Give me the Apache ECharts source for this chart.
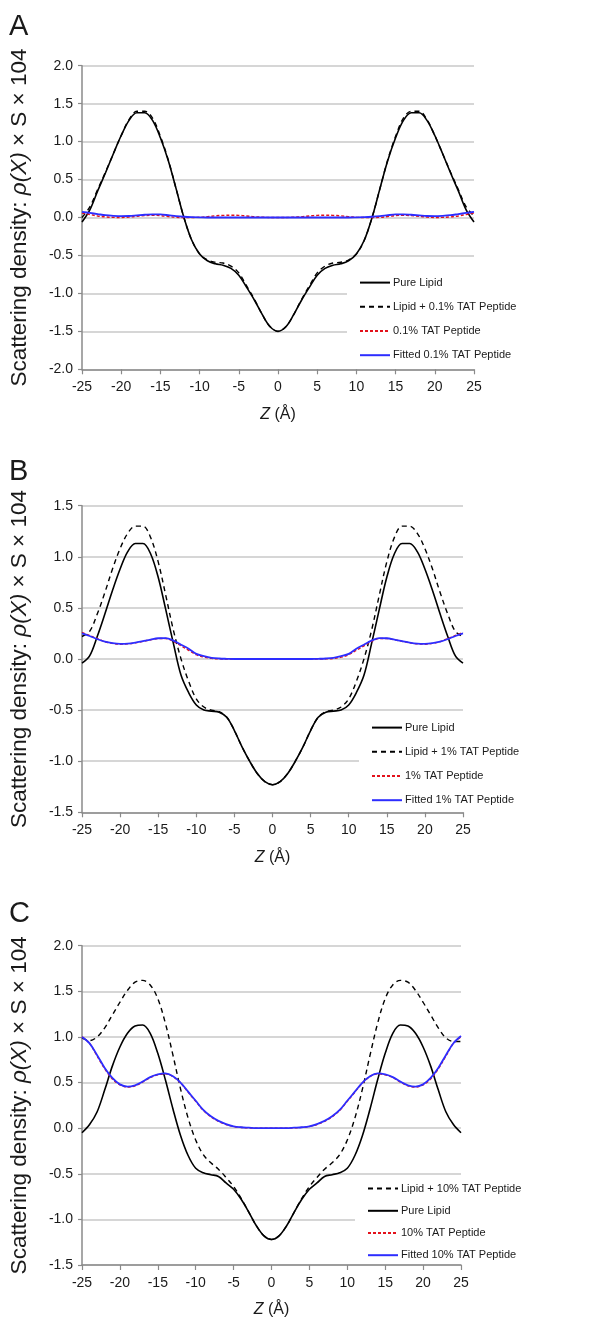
<!DOCTYPE html>
<html><head><meta charset="utf-8">
<script src="https://cdn.jsdelivr.net/npm/echarts@6/dist/echarts.min.js"></script>
<style>html,body{margin:0;padding:0;background:#fff}#c{width:614px;height:1320px}</style>
</head><body><div id="c"></div>
<script>
// Z positions (Å)
const Z = [-25,-24,-23,-22,-21,-20,-19,-18,-17,-16,-15,-14,-13,-12,-11,-10,-9,-8,-7,-6,-5,-4,-3,-2,-1,0,
           1,2,3,4,5,6,7,8,9,10,11,12,13,14,15,16,17,18,19,20,21,22,23,24,25];

// Panel A
const A_pure = [-0.06,0.10,0.35,0.59,0.84,1.08,1.28,1.38,1.38,1.28,1.05,0.75,0.38,0.00,-0.30,-0.48,-0.57,-0.61,-0.63,-0.67,-0.76,-0.92,-1.09,-1.28,-1.44,-1.50,
                -1.44,-1.28,-1.09,-0.92,-0.76,-0.67,-0.63,-0.61,-0.57,-0.48,-0.30,0.00,0.38,0.75,1.05,1.28,1.38,1.38,1.28,1.08,0.84,0.59,0.35,0.10,-0.06];
const A_mix  = [0.00,0.14,0.37,0.60,0.84,1.08,1.29,1.40,1.40,1.31,1.07,0.76,0.38,0.00,-0.30,-0.48,-0.56,-0.59,-0.60,-0.64,-0.73,-0.90,-1.08,-1.28,-1.44,-1.50,
                -1.44,-1.28,-1.08,-0.90,-0.73,-0.64,-0.60,-0.59,-0.56,-0.48,-0.30,0.00,0.38,0.76,1.07,1.31,1.40,1.40,1.29,1.08,0.84,0.60,0.37,0.14,0.02];
const A_pep  = [0.06,0.04,0.02,0.008,0.002,0.0,0.005,0.015,0.025,0.03,0.025,0.012,0.003,0.0,0.0,0.003,0.012,0.022,0.028,0.03,0.028,0.02,0.01,0.004,0.0,0.0,
                0.0,0.004,0.01,0.02,0.028,0.03,0.028,0.022,0.012,0.003,0.0,0.0,0.003,0.012,0.025,0.03,0.025,0.015,0.005,0.0,0.002,0.008,0.02,0.04,0.06];
const A_fit  = [0.075,0.06,0.045,0.03,0.022,0.018,0.02,0.028,0.036,0.042,0.04,0.03,0.018,0.01,0.005,0.002,0,0,0,0,0,0,0,0,0,0,
                0,0,0,0,0,0,0,0,0,0.002,0.005,0.01,0.018,0.03,0.04,0.042,0.036,0.028,0.02,0.018,0.022,0.03,0.045,0.06,0.075];

// Panel B
const B_pure = [-0.04,0.03,0.22,0.44,0.67,0.88,1.05,1.13,1.13,1.03,0.80,0.48,0.15,-0.16,-0.33,-0.45,-0.50,-0.51,-0.52,-0.57,-0.70,-0.86,-1.00,-1.12,-1.20,-1.23,
                -1.20,-1.12,-1.00,-0.86,-0.70,-0.57,-0.52,-0.51,-0.50,-0.45,-0.33,-0.16,0.15,0.48,0.80,1.03,1.13,1.13,1.05,0.88,0.67,0.44,0.22,0.03,-0.04];
const B_mix  = [0.22,0.27,0.44,0.65,0.88,1.08,1.23,1.30,1.30,1.19,0.95,0.62,0.28,0.00,-0.22,-0.39,-0.47,-0.50,-0.515,-0.57,-0.70,-0.86,-1.00,-1.12,-1.20,-1.23,
                -1.20,-1.12,-1.00,-0.86,-0.70,-0.57,-0.515,-0.50,-0.47,-0.39,-0.22,0.00,0.28,0.62,0.95,1.19,1.30,1.30,1.23,1.08,0.88,0.65,0.44,0.27,0.22];
const B_pep  = [0.26,0.23,0.20,0.17,0.153,0.145,0.148,0.158,0.173,0.188,0.20,0.20,0.172,0.128,0.085,0.042,0.018,0.006,0.001,0,0,0,0,0,0,0,
                0,0,0,0,0,0,0.001,0.006,0.018,0.042,0.085,0.128,0.172,0.20,0.20,0.188,0.173,0.158,0.148,0.145,0.153,0.17,0.20,0.23,0.26];
const B_fit  = [0.25,0.225,0.195,0.17,0.155,0.148,0.15,0.16,0.175,0.19,0.203,0.205,0.18,0.14,0.10,0.05,0.028,0.012,0.005,0.002,0,0,0,0,0,0,
                0,0,0,0,0,0.002,0.005,0.012,0.028,0.05,0.10,0.14,0.18,0.205,0.203,0.19,0.175,0.16,0.15,0.148,0.155,0.17,0.195,0.225,0.25];

// Panel C
const C_pure = [-0.05,0.04,0.18,0.42,0.68,0.89,1.04,1.12,1.13,1.04,0.82,0.53,0.21,-0.08,-0.30,-0.44,-0.49,-0.51,-0.53,-0.60,-0.67,-0.78,-0.92,-1.07,-1.18,-1.22,
                -1.18,-1.07,-0.92,-0.78,-0.67,-0.60,-0.53,-0.51,-0.49,-0.44,-0.30,-0.08,0.21,0.53,0.82,1.04,1.13,1.12,1.04,0.89,0.68,0.42,0.18,0.04,-0.05];
const C_mix  = [0.99,0.96,1.00,1.10,1.24,1.38,1.51,1.60,1.62,1.57,1.42,1.15,0.80,0.43,0.11,-0.13,-0.29,-0.38,-0.45,-0.54,-0.64,-0.77,-0.92,-1.07,-1.18,-1.22,
                -1.18,-1.07,-0.92,-0.77,-0.64,-0.54,-0.45,-0.38,-0.29,-0.13,0.11,0.43,0.80,1.15,1.42,1.57,1.62,1.60,1.51,1.38,1.24,1.10,0.99,0.95,0.95];
const C_pep  = [1.00,0.93,0.79,0.65,0.54,0.475,0.45,0.465,0.505,0.555,0.585,0.595,0.565,0.495,0.395,0.295,0.195,0.125,0.075,0.04,0.018,0.008,0.003,0,0,0,
                0,0,0.003,0.008,0.018,0.04,0.075,0.125,0.195,0.295,0.395,0.495,0.565,0.595,0.585,0.555,0.505,0.465,0.45,0.475,0.54,0.65,0.79,0.93,1.00];
const C_fit  = [1.00,0.93,0.80,0.66,0.55,0.48,0.455,0.47,0.51,0.56,0.59,0.60,0.57,0.50,0.40,0.30,0.20,0.13,0.08,0.045,0.02,0.01,0.005,0,0,0,
                0,0,0.005,0.01,0.02,0.045,0.08,0.13,0.20,0.30,0.40,0.50,0.57,0.60,0.59,0.56,0.51,0.47,0.455,0.48,0.55,0.66,0.80,0.93,1.01];

// Axis settings per panel
const yRanges = [[-2, 2], [-1.5, 1.5], [-1.5, 2]];
const xTicks = { min: -25, max: 25, interval: 5 };
const yTitle = '{n|Scattering density: }{i|ρ(X)}{n| × S × 104}';
const xTitle = '{i|Z}{n| (Å)}';
const panelLetters = ['A', 'B', 'C'];

const legendA = ['Pure Lipid', 'Lipid + 0.1% TAT Peptide', '0.1% TAT Peptide', 'Fitted 0.1% TAT Peptide'];
const legendB = ['Pure Lipid', 'Lipid + 1% TAT Peptide', '1% TAT Peptide', 'Fitted 1% TAT Peptide'];
const legendC = ['Lipid + 10% TAT Peptide', 'Pure Lipid', '10% TAT Peptide', 'Fitted 10% TAT Peptide'];

const FONT = '"Liberation Sans", Arial, sans-serif';
const styles = {
  pure: { color: '#000', width: 1.6, type: 'solid' },
  mix:  { color: '#000', width: 1.4, type: [5, 4] },
  pep:  { color: '#e3111b', width: 1.4, type: [3, 2] },
  fit:  { color: '#2d2dff', width: 1.8, type: 'solid' }
};

function mk(name, ys, st, idx, z) {
  return {
    type: 'line', name: name, xAxisIndex: idx, yAxisIndex: idx,
    data: Z.map((zz, i) => [zz, ys[i]]),
    symbol: 'none', showSymbol: false, smooth: 0.35, z: z,
    lineStyle: st, itemStyle: { color: st.color }, emphasis: { disabled: true }
  };
}

const grids = [
  { left: 80, top: 65.7, width: 394, height: 303.6 },
  { left: 80, top: 505.7, width: 383, height: 306.6 },
  { left: 80, top: 945.7, width: 381, height: 319.3 }
];

const axisGray = '#8a8a8a';
const xAxes = grids.map((g, i) => ({
  type: 'value', gridIndex: i, min: xTicks.min, max: xTicks.max, interval: xTicks.interval,
  axisLine: { show: true, onZero: false, lineStyle: { color: axisGray, width: 1.5 } },
  axisTick: { show: true, length: 5, lineStyle: { color: axisGray, width: 1.2 } },
  axisLabel: { fontFamily: FONT, fontSize: 14, color: '#1a1a1a', margin: 11 },
  splitLine: { show: false },
  name: xTitle, nameLocation: 'middle', nameGap: 37,
  nameTextStyle: { rich: {
    i: { fontFamily: FONT, fontSize: 16, fontStyle: 'italic', color: '#1a1a1a' },
    n: { fontFamily: FONT, fontSize: 16, color: '#1a1a1a' } } }
}));
const yAxes = grids.map((g, i) => ({
  type: 'value', gridIndex: i, min: yRanges[i][0], max: yRanges[i][1], interval: 0.5,
  axisLine: { show: true, onZero: false, lineStyle: { color: axisGray, width: 1.5 } },
  axisTick: { show: true, length: 4, lineStyle: { color: axisGray, width: 1.2 } },
  axisLabel: { fontFamily: FONT, fontSize: 14, color: '#1a1a1a', margin: 9, formatter: v => v.toFixed(1) },
  splitLine: { show: true, lineStyle: { color: '#c9c9c9', width: 1.5 } },
  name: yTitle, nameLocation: 'middle', nameRotate: 90, nameGap: 51,
  nameTextStyle: { rich: {
    i: { fontFamily: FONT, fontSize: 22.5, fontStyle: 'italic', color: '#1a1a1a' },
    n: { fontFamily: FONT, fontSize: 22.5, color: '#1a1a1a' } } }
}));

const legendBase = {
  orient: 'vertical', itemWidth: 30, itemHeight: 14, itemGap: 13,
  backgroundColor: '#fff', padding: [3, 4, 0, 12],
  itemStyle: { opacity: 0 },
  textStyle: { fontFamily: FONT, fontSize: 11, color: '#1a1a1a', padding: [0, 0, 0, -2] },
  selectedMode: false
};

const option = {
  animation: false,
  backgroundColor: '#fff',
  grid: grids,
  xAxis: xAxes,
  yAxis: yAxes,
  legend: [
    Object.assign({}, legendBase, { data: legendA, left: 347, top: 274 }),
    Object.assign({}, legendBase, { data: legendB, left: 359, top: 719 }),
    Object.assign({}, legendBase, { data: legendC, left: 355, top: 1180, itemGap: 11 })
  ],
  graphic: panelLetters.map((t, i) => ({
    type: 'text', left: 9, top: [12, 457, 899][i],
    style: { text: t, font: '29px ' + FONT, fill: '#1a1a1a' }
  })),
  series: [
    mk(legendA[0], A_pure, styles.pure, 0, 4),
    mk(legendA[1], A_mix, styles.mix, 0, 3),
    mk(legendA[2], A_pep, styles.pep, 0, 5),
    mk(legendA[3], A_fit, styles.fit, 0, 6),
    mk(legendB[0], B_pure, styles.pure, 1, 4),
    mk(legendB[1], B_mix, styles.mix, 1, 3),
    mk(legendB[2], B_pep, styles.pep, 1, 5),
    mk(legendB[3], B_fit, styles.fit, 1, 6),
    mk(legendC[1], C_pure, styles.pure, 2, 4),
    mk(legendC[0], C_mix, styles.mix, 2, 3),
    mk(legendC[2], C_pep, styles.pep, 2, 5),
    mk(legendC[3], C_fit, styles.fit, 2, 6)
  ]
};

const chart = echarts.init(document.getElementById('c'), null, { renderer: 'canvas' });
chart.setOption(option);
</script>
</body></html>
